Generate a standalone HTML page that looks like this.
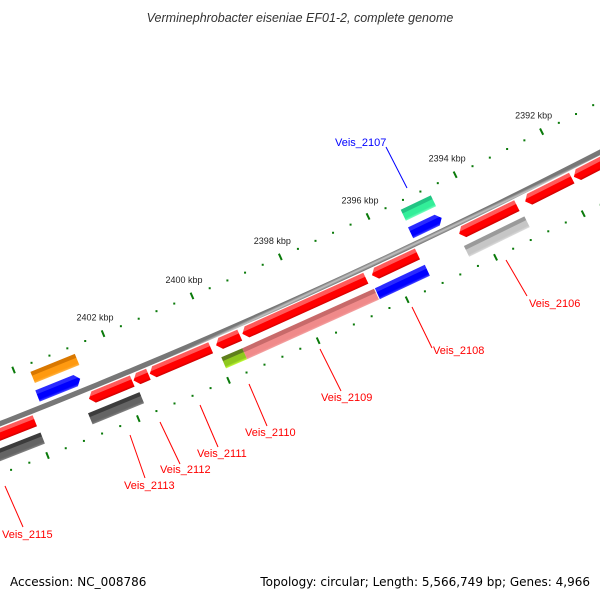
<!DOCTYPE html>
<html><head><meta charset="utf-8">
<style>
html,body{margin:0;padding:0;background:#fff;}
svg{display:block;font-family:"Liberation Sans",sans-serif;}
</style></head>
<body>
<svg id="chart" width="600" height="600" viewBox="0 0 600 600" xmlns="http://www.w3.org/2000/svg">
<defs id="defs"></defs>
<rect width="600" height="600" fill="#fff"/>
<text x="300" y="22" text-anchor="middle" font-size="12.5" font-style="italic" fill="#333">Verminephrobacter eiseniae EF01-2, complete genome</text>
<g id="ticks"></g>
<g id="backbone"></g>
<g id="genes"></g>
<g id="labels"></g>
<text x="10" y="586" font-size="12" fill="#000" style="font-family:'DejaVu Sans',sans-serif">Accession: NC_008786</text>
<text x="590" y="586" font-size="12" fill="#000" text-anchor="end" style="font-family:'DejaVu Sans',sans-serif">Topology: circular; Length: 5,566,749 bp; Genes: 4,966</text>
</svg>
<script>
// ---- data (kbp) ----
const geneNames = ["Veis_2105","Veis_2106","Veis_2106b","Veis_2108","Veis_2109","Veis_2110","Veis_2111","Veis_2112","Veis_2113","Veis_2115","cds_2106","cds_2108","cds_2109","cds_2110","cds_2113","cds_2115","Veis_2107","cds_2107","Veis_2114","cds_2114"];
const geneStart = [2390.2,2391.88,2393.14,2395.41,2396.58,2399.42,2400.07,2401.46,2401.82,2403.98,2393.10,2395.37,2396.52,2399.48,2401.77,2403.96,2394.64,2394.64,2402.79,2402.70];
const geneEnd   = [2391.83,2392.95,2394.46,2396.44,2399.36,2399.95,2401.43,2401.79,2402.78,2405.2,2394.48,2396.50,2399.48,2399.95,2402.91,2405.2,2395.35,2395.33,2403.74,2403.69];
const geneRow   = ["B1","B1","B1","B1","B1","B1","B1","B1","B1","B1","B2","B2","B2","B2","B2","B2","A1","A2","A1","A2"];
const geneColor = ["red","red","red","red","red","red","red","red","red","red","lgrey","blue","pink","ygreen","dgrey","dgrey","blue","teal","blue","orange"];
const geneArrow = ["left","left","left","left","left","left","left","left","left","left","none","none","none","none","none","none","right","none","right","none"];
const tickStartKbp = 2388;
const tickCount = 51;          // minor every 0.4 kbp
const majorLabels = ["2390 kbp","2392 kbp","2394 kbp","2396 kbp","2398 kbp","2400 kbp","2402 kbp"];
const majorKbp = [2390,2392,2394,2396,2398,2400,2402];

// ---- geometry ----
const CX=-2322, CY=-5508, R0=6370;
const rows={A2:[-37,-25],A1:[-18,-6],B1:[4,16],B2:[23,35]};
const palette={
 red:["#ff5a5a","#ff0000","#c80000"],
 pink:["#c86a6a","#f08a8a","#f4a8a8"],
 lgrey:["#9a9a9a","#c6c6c6","#dedede"],
 dgrey:["#3c3c3c","#646464","#858585"],
 blue:["#2a2aff","#0000ff","#4a4aff"],
 teal:["#22c483","#33ee99","#77ffc0"],
 orange:["#d97800","#ff9a10","#ffb84a"],
 ygreen:["#5f7f1c","#8fc81e","#c4ff3a"]
};
function ang(k){return (64.83+(k-2396)*0.4375)*Math.PI/180;}
function pt(k,off){const a=ang(k),r=R0+off;return [CX+r*Math.cos(a),CY+r*Math.sin(a)];}
const NS="http://www.w3.org/2000/svg";
function mk(tag,attrs){const e=document.createElementNS(NS,tag);for(const k in attrs)e.setAttribute(k,attrs[k]);return e;}
const pxPerKbp=R0*0.4375*Math.PI/180;

// ticks
const tg=document.getElementById('ticks');
[-45,47].forEach((off,ri)=>{
 for(let i=0;i<tickCount;i++){
  const k=tickStartKbp+0.4*i;
  if(i%5===0){
   const a=pt(k,off-3.5),b=pt(k,off+3.5);
   const l=mk('line',{x1:a[0],y1:a[1],x2:b[0],y2:b[1],stroke:'#0a7a0a','stroke-width':2});
   
   
   tg.appendChild(l);
  } else {
   const c=pt(k,off);
   const d=mk('rect',{x:c[0]-1,y:c[1]-1,width:2,height:2,fill:'#0a7a0a'});
   
   
   tg.appendChild(d);
  }
 }
});
majorKbp.forEach((k,i)=>{
 const c=pt(k,-45);
 const t=mk('text',{x:c[0]-8,y:c[1]-13,'text-anchor':'middle','font-size':9,fill:'#222'});
 t.textContent=majorLabels[i];
 
 
 tg.appendChild(t);
});

// backbone
const bb=document.getElementById('backbone');
(function(){
 const pts=[];
 for(let k=2386;k<=2408;k+=0.5)pts.push(pt(k,-2.6));
 for(let k=2408;k>=2386;k-=0.5)pts.push(pt(k,2.6));
 const defs=document.getElementById('defs');
 const a=pt(2396,-2.6),b=pt(2396,2.6);
 const g=mk('linearGradient',{id:'bbg',gradientUnits:'userSpaceOnUse',x1:a[0],y1:a[1],x2:b[0],y2:b[1]});
 [["0","#777"],["0.45","#c4c4c4"],["1","#6a6a6a"]].forEach(s=>g.appendChild(mk('stop',{offset:s[0],'stop-color':s[1]})));
 defs.appendChild(g);
 const p=mk('polygon',{points:pts.map(q=>q.join(',')).join(' '),fill:'url(#bbg)'});
 
 
 bb.appendChild(p);
})();

// genes
const gg=document.getElementById('genes');
const defs=document.getElementById('defs');
geneNames.forEach((nm,i)=>{
 const lo=geneStart[i],hi=geneEnd[i];
 const [r0,r1]=rows[geneRow[i]];
 const rm=(r0+r1)/2;
 const ah=5/pxPerKbp;
 let P=[];
 if(geneArrow[i]==='left'){
  P=[pt(hi,rm),pt(hi-ah,r0),pt(lo,r0),pt(lo,r1),pt(hi-ah,r1)];
 } else if(geneArrow[i]==='right'){
  P=[pt(hi,r0),pt(lo+ah,r0),pt(lo,rm),pt(lo+ah,r1),pt(hi,r1)];
 } else {
  P=[pt(hi,r0),pt(lo,r0),pt(lo,r1),pt(hi,r1)];
 }
 const km=(lo+hi)/2,a=pt(km,r0),b=pt(km,r1);
 const col=palette[geneColor[i]];
 const id='g'+i;
 const gr=mk('linearGradient',{id:id,gradientUnits:'userSpaceOnUse',x1:a[0],y1:a[1],x2:b[0],y2:b[1]});
 [["0",col[0]],["0.32",col[0]],["0.36",col[1]],["0.8",col[1]],["1",col[2]]].forEach(s=>gr.appendChild(mk('stop',{offset:s[0],'stop-color':s[1]})));
 defs.appendChild(gr);
 const p=mk('polygon',{points:P.map(q=>q[0].toFixed(1)+','+q[1].toFixed(1)).join(' '),fill:'url(#'+id+')'});
 
 
 gg.appendChild(p);
});

// labels with leader lines
const labelText=["Veis_2107","Veis_2106","Veis_2108","Veis_2109","Veis_2110","Veis_2111","Veis_2112","Veis_2113","Veis_2115"];
const labelColor=["#0000ff","#ff0000","#ff0000","#ff0000","#ff0000","#ff0000","#ff0000","#ff0000","#ff0000"];
const labelPos=[[335,146],[529,307],[433,354],[321,401],[245,436],[197,457],[160,473],[124,489],[2,538]];
const leaderLines=[[386,147,407,188],[506,260,527,296],[412,307,432,348],[320,349,341,391],[249,384,267,426],[200,405,218,447],[160,422,180,464],[130,435,145,478],[5,486,23,527]];
const lg=document.getElementById('labels');
labelText.forEach((t,i)=>{
 const L=leaderLines[i];
 const l=mk('line',{x1:L[0],y1:L[1],x2:L[2],y2:L[3],stroke:labelColor[i],'stroke-width':1});
 
 
 lg.appendChild(l);
 const tx=mk('text',{x:labelPos[i][0],y:labelPos[i][1],'font-size':11,fill:labelColor[i]});
 tx.textContent=t;
 
 
 lg.appendChild(tx);
});
</script>
</body></html>
